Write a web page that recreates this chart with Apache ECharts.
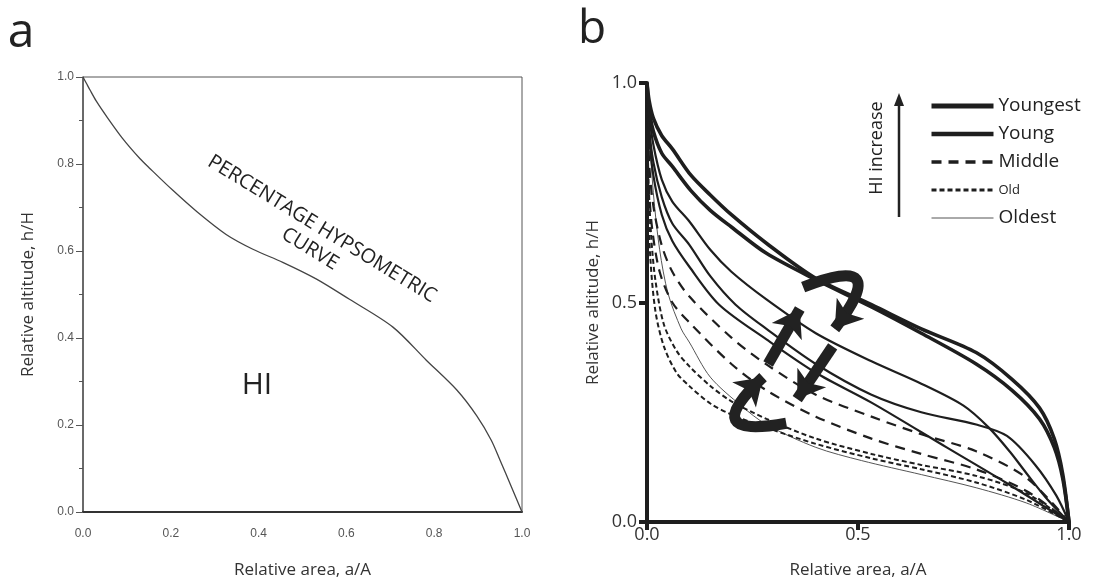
<!DOCTYPE html>
<html>
<head>
<meta charset="utf-8">
<script src="https://cdn.jsdelivr.net/npm/echarts@6/dist/echarts.min.js"></script>
<style>
html, body { margin: 0; padding: 0; background: #fff; }
#chart { width: 1097px; height: 584px; }
</style>
</head>
<body>
<div id="chart"></div>
<script>
// panel a: one percentage hypsometric curve
var curveA = [[0, 1], [0.008, 0.985], [0.016, 0.97], [0.03, 0.945], [0.054, 0.909], [0.09, 0.859],
  [0.13, 0.812], [0.151, 0.791], [0.204, 0.74], [0.261, 0.689], [0.326, 0.638], [0.387, 0.604],
  [0.455, 0.574], [0.531, 0.536], [0.607, 0.489], [0.706, 0.425], [0.782, 0.349], [0.851, 0.281],
  [0.897, 0.221], [0.93, 0.165], [0.95, 0.119], [0.975, 0.06], [1, 0]];

// panel b: curves grouped by stage
var youngestA = [[0, 1], [0.005, 0.96], [0.015, 0.92], [0.035, 0.88], [0.06, 0.85], [0.104, 0.79],
  [0.15, 0.745], [0.2, 0.7], [0.283, 0.635], [0.4, 0.555], [0.532, 0.495], [0.65, 0.44],
  [0.78, 0.386], [0.865, 0.325], [0.93, 0.26], [0.965, 0.19], [0.985, 0.11], [1, 0]];
var youngestB = [[0, 1], [0.005, 0.94], [0.015, 0.89], [0.035, 0.84], [0.06, 0.81], [0.104, 0.755],
  [0.15, 0.71], [0.2, 0.672], [0.283, 0.612], [0.4, 0.552], [0.532, 0.49], [0.65, 0.43],
  [0.78, 0.36], [0.865, 0.3], [0.93, 0.235], [0.965, 0.17], [0.985, 0.1], [1, 0]];
var youngA = [[0, 1], [0.005, 0.93], [0.015, 0.86], [0.035, 0.78], [0.06, 0.73], [0.1, 0.685],
  [0.15, 0.62], [0.2, 0.57], [0.283, 0.507], [0.4, 0.43], [0.532, 0.366], [0.65, 0.315],
  [0.75, 0.265], [0.81, 0.215], [0.86, 0.16], [0.9, 0.11], [0.95, 0.05], [1, 0]];
var youngB = [[0, 1], [0.005, 0.9], [0.015, 0.82], [0.035, 0.74], [0.06, 0.68], [0.1, 0.632],
  [0.15, 0.56], [0.21, 0.495], [0.283, 0.44], [0.4, 0.36], [0.532, 0.29], [0.65, 0.25],
  [0.78, 0.222], [0.853, 0.196], [0.92, 0.13], [0.97, 0.06], [1, 0]];
var youngC = [[0, 1], [0.005, 0.88], [0.015, 0.79], [0.035, 0.7], [0.06, 0.64], [0.1, 0.582],
  [0.171, 0.495], [0.283, 0.416], [0.4, 0.34], [0.532, 0.272], [0.71, 0.17], [0.85, 0.09], [1, 0]];
var middleA = [[0, 1], [0.005, 0.82], [0.015, 0.72], [0.035, 0.63], [0.06, 0.57], [0.1, 0.514],
  [0.2, 0.42], [0.283, 0.359], [0.4, 0.29], [0.532, 0.24], [0.65, 0.2], [0.78, 0.161], [0.9, 0.1], [1, 0]];
var middleB = [[0, 1], [0.004, 0.78], [0.012, 0.67], [0.03, 0.57], [0.06, 0.5], [0.1, 0.455],
  [0.2, 0.36], [0.283, 0.3], [0.4, 0.24], [0.532, 0.19], [0.65, 0.155], [0.78, 0.12], [0.9, 0.07], [1, 0]];
var oldA = [[0, 1], [0.003, 0.8], [0.01, 0.65], [0.02, 0.55], [0.04, 0.45], [0.07, 0.39], [0.1, 0.355],
  [0.15, 0.31], [0.2, 0.275], [0.283, 0.235], [0.4, 0.19], [0.532, 0.155], [0.65, 0.13],
  [0.78, 0.105], [0.9, 0.065], [1, 0]];
var oldB = [[0, 1], [0.002, 0.76], [0.008, 0.6], [0.02, 0.48], [0.04, 0.4], [0.07, 0.34], [0.1, 0.31],
  [0.15, 0.27], [0.2, 0.245], [0.283, 0.215], [0.4, 0.178], [0.532, 0.145], [0.65, 0.12],
  [0.78, 0.09], [0.9, 0.05], [1, 0]];
var oldest = [[0, 1], [0.005, 0.9], [0.015, 0.75], [0.03, 0.62], [0.05, 0.52], [0.081, 0.44],
  [0.1, 0.41], [0.15, 0.33], [0.223, 0.265], [0.283, 0.222], [0.4, 0.17], [0.508, 0.14],
  [0.65, 0.108], [0.78, 0.078], [0.9, 0.043], [1, 0]];

// big black arrows drawn over panel b (tail -> head, with bend)
var arrowPaths = [
  { coords: [[0.287, 0.36], [0.362, 0.485]], bend: 0 },
  { coords: [[0.44, 0.40], [0.356, 0.28]], bend: 0 },
  { coords: [[0.37, 0.535], [0.445, 0.44]], bend: 1.8 },
  { coords: [[0.33, 0.225], [0.275, 0.33]], bend: 1.7 }
];

var stages = ['Youngest', 'Young', 'Middle', 'Old', 'Oldest'];
var legendWidths = [5, 4.5, 3.5, 3, 1];

var myChart = echarts.init(document.getElementById('chart'));
var ink = '#1e1e1e';
var sans = '"Open Sans", "Liberation Sans", sans-serif';
var narrow = '"Liberation Sans Narrow", "Liberation Sans", sans-serif';

var styleOf = {
  Youngest: { width: 3.6, type: 'solid', color: ink },
  Young: { width: 2.2, type: 'solid', color: ink },
  Middle: { width: 2.2, type: [10, 7], color: ink },
  Old: { width: 2, type: [5, 3], color: ink },
  Oldest: { width: 1, type: 'solid', color: '#555' }
};

function bLine(name, data) {
  return {
    name: name,
    type: 'line',
    xAxisIndex: 1,
    yAxisIndex: 1,
    data: data,
    symbol: 'none',
    smooth: 0.3,
    lineStyle: styleOf[name],
    itemStyle: { color: styleOf[name].color },
    silent: true
  };
}

var series = [
  {
    name: 'curve',
    type: 'line',
    xAxisIndex: 0,
    yAxisIndex: 0,
    data: curveA,
    symbol: 'none',
    smooth: 0.3,
    lineStyle: { width: 1.3, color: '#444' },
    silent: true
  },
  bLine('Oldest', oldest),
  bLine('Old', oldA),
  bLine('Old', oldB),
  bLine('Middle', middleA),
  bLine('Middle', middleB),
  bLine('Young', youngC),
  bLine('Young', youngB),
  bLine('Young', youngA),
  bLine('Youngest', youngestB),
  bLine('Youngest', youngestA),
  {
    type: 'lines',
    coordinateSystem: 'cartesian2d',
    xAxisIndex: 1,
    yAxisIndex: 1,
    symbol: ['none', 'arrow'],
    symbolSize: 26,
    silent: true,
    data: arrowPaths.map(function (a) {
      return { coords: a.coords, lineStyle: { curveness: a.bend } };
    }),
    lineStyle: { color: '#222', width: 11, opacity: 1 },
    z: 5
  }
];

option = {
  animation: false,
  backgroundColor: '#fff',
  legend: {
    data: stages.map(function (s, i) {
      return { name: s, lineStyle: { width: legendWidths[i] } };
    }),
    orient: 'vertical',
    left: 924,
    top: 91,
    itemWidth: 62,
    itemHeight: 14,
    itemGap: 8,
    selectedMode: false,
    itemStyle: { opacity: 0, borderWidth: 0 },
    textStyle: {
      fontFamily: sans,
      fontSize: 19,
      lineHeight: 20,
      color: '#222',
      rich: { s: { fontFamily: sans, fontSize: 13, lineHeight: 20, color: '#222' } }
    },
    formatter: function (name) {
      return name === 'Old' ? '{s|Old}' : name;
    }
  },
  grid: [
    { left: 83, top: 77, width: 439, height: 436, show: true, borderColor: '#555', borderWidth: 1 },
    { left: 647, top: 83, width: 422, height: 440 }
  ],
  xAxis: [
    {
      gridIndex: 0, type: 'value', min: 0, max: 1, interval: 0.2,
      name: 'Relative area, a/A', nameLocation: 'middle', nameGap: 50,
      nameTextStyle: { fontFamily: sans, fontSize: 17, color: '#333' },
      axisLine: { show: true, lineStyle: { color: '#333', width: 2 } },
      axisTick: { show: false },
      splitLine: { show: false },
      axisLabel: {
        margin: 16, fontFamily: narrow, fontSize: 12, color: '#555',
        formatter: function (v) { return v.toFixed(1); }
      }
    },
    {
      gridIndex: 1, type: 'value', min: 0, max: 1, interval: 0.5,
      name: 'Relative area, a/A', nameLocation: 'middle', nameGap: 40,
      nameTextStyle: { fontFamily: sans, fontSize: 17, color: '#333' },
      axisLine: { show: true, lineStyle: { color: ink, width: 4 } },
      axisTick: { show: true, length: 8, lineStyle: { color: ink, width: 4 } },
      splitLine: { show: false },
      axisLabel: {
        margin: 4, fontFamily: sans, fontSize: 18, color: '#333',
        formatter: function (v) { return v.toFixed(1); }
      }
    }
  ],
  yAxis: [
    {
      gridIndex: 0, type: 'value', min: 0, max: 1, interval: 0.2,
      name: 'Relative altitude, h/H', nameLocation: 'middle', nameGap: 46,
      nameTextStyle: { fontFamily: sans, fontSize: 17, color: '#333' },
      axisLine: { show: true, lineStyle: { color: '#555', width: 1.5 } },
      axisTick: { show: true, length: 7, lineStyle: { color: '#555', width: 1 } },
      minorTick: { show: true, splitNumber: 2, length: 4, lineStyle: { color: '#555', width: 1 } },
      splitLine: { show: false },
      axisLabel: {
        margin: 9, fontFamily: narrow, fontSize: 12, color: '#555',
        formatter: function (v) { return v.toFixed(1); }
      }
    },
    {
      gridIndex: 1, type: 'value', min: 0, max: 1, interval: 0.5,
      name: 'Relative altitude, h/H', nameLocation: 'middle', nameGap: 45,
      nameTextStyle: { fontFamily: sans, fontSize: 17, color: '#333' },
      axisLine: { show: true, lineStyle: { color: ink, width: 4 } },
      axisTick: { show: true, length: 8, lineStyle: { color: ink, width: 4 } },
      splitLine: { show: false },
      axisLabel: {
        margin: 10, fontFamily: sans, fontSize: 18, color: '#333',
        formatter: function (v) { return v.toFixed(1); }
      }
    }
  ],
  graphic: [
    { type: 'text', x: 21, y: 33, style: { text: 'a', font: '48px ' + sans, fill: '#222', align: 'center', verticalAlign: 'middle' } },
    { type: 'text', x: 592, y: 30, style: { text: 'b', font: '46px ' + sans, fill: '#222', align: 'center', verticalAlign: 'middle' } },
    { type: 'text', x: 322, y: 229, rotation: -0.55, style: { text: 'PERCENTAGE HYPSOMETRIC', font: '20px ' + sans, fill: '#222', align: 'center', verticalAlign: 'middle' } },
    { type: 'text', x: 310, y: 249, rotation: -0.55, style: { text: 'CURVE', font: '20px ' + sans, fill: '#222', align: 'center', verticalAlign: 'middle' } },
    { type: 'text', x: 257, y: 385, style: { text: 'HI', font: '30px ' + sans, fill: '#222', align: 'center', verticalAlign: 'middle' } },
    { type: 'text', x: 877, y: 148, rotation: Math.PI / 2, style: { text: 'HI increase', font: '18px ' + sans, fill: '#222', align: 'center', verticalAlign: 'middle' } },
    { type: 'line', shape: { x1: 899, y1: 217, x2: 899, y2: 104 }, style: { stroke: '#222', lineWidth: 2.5 } },
    { type: 'polygon', shape: { points: [[899, 93], [894, 106], [904, 106]] }, style: { fill: '#222' } }
  ],
  series: series
};
myChart.setOption(option);
</script>
</body>
</html>
